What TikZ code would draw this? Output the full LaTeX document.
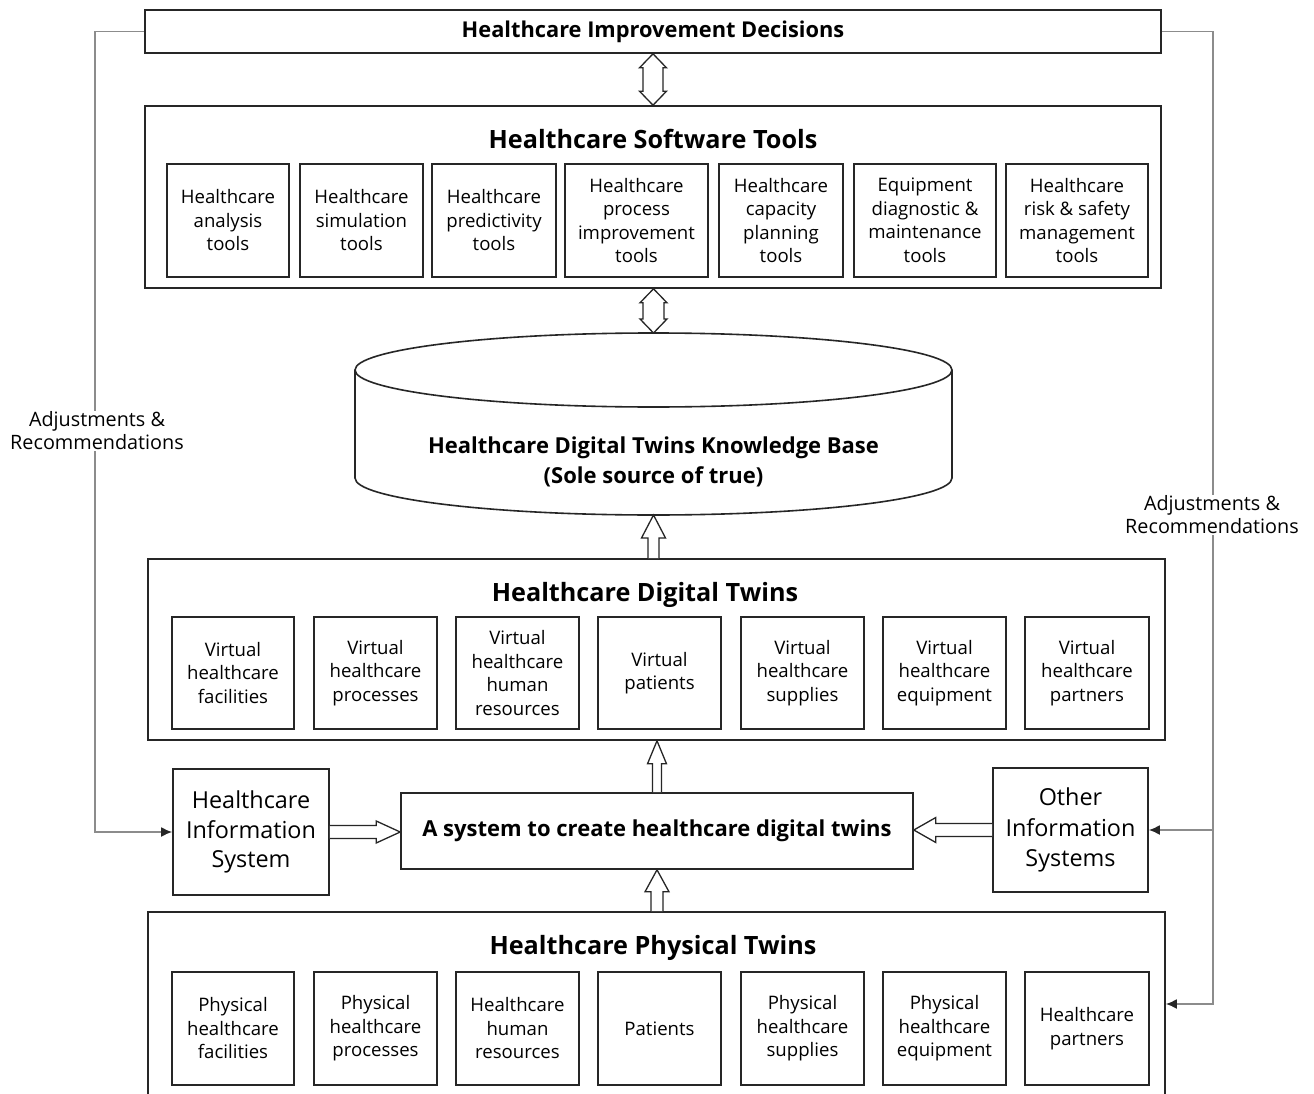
\documentclass[tikz,border=0pt]{standalone}
\usepackage{fontspec}
\setmainfont{Open Sans}
\usetikzlibrary{calc,arrows.meta}
\newcommand\blkup[5]{\draw[blk] let \p1=(#1), \p2=(#2) in
  (\x1-#3,\y1) -- (\x1-#3,\y2-#5) -- (\x1-#4,\y2-#5) -- (\x1,\y2) -- (\x1+#4,\y2-#5) -- (\x1+#3,\y2-#5) -- (\x1+#3,\y1);}
\newcommand\blkupdown[5]{\draw[blk] let \p1=(#1), \p2=(#2) in
  (\x1-#3,\y1+#5) -- (\x1-#4,\y1+#5) -- (\x1,\y1) -- (\x1+#4,\y1+#5) -- (\x1+#3,\y1+#5) -- (\x1+#3,\y2-#5) -- (\x1+#4,\y2-#5) -- (\x1,\y2) -- (\x1-#4,\y2-#5) -- (\x1-#3,\y2-#5) -- cycle;}
\newcommand\blkright[5]{\draw[blk] let \p1=(#1), \p2=(#2) in
  (\x1,\y1+#3) -- (\x2-#5,\y1+#3) -- (\x2-#5,\y1+#4) -- (\x2,\y1) -- (\x2-#5,\y1-#4) -- (\x2-#5,\y1-#3) -- (\x1,\y1-#3);}
\newcommand\blkleft[5]{\draw[blk] let \p1=(#1), \p2=(#2) in
  (\x1,\y1+#3) -- (\x2+#5,\y1+#3) -- (\x2+#5,\y1+#4) -- (\x2,\y1) -- (\x2+#5,\y1-#4) -- (\x2+#5,\y1-#3) -- (\x1,\y1-#3);}
\begin{document}
\begin{tikzpicture}[x=1pt,y=-1pt,
  frame/.style={draw=black!85, line width=1.6pt, inner sep=0pt},
  sub/.style={frame, align=center, minimum height=113pt, font=\fontsize{18.6}{23.5}\selectfont},
  ttl/.style={font=\bfseries\fontsize{25.2}{28}\selectfont},
  blk/.style={draw=black!85, line width=1.3pt, fill=white, line join=miter},
  fb/.style={draw=black!45, line width=1.8pt},
  fbarrow/.style={fb, -{Latex[length=11pt,width=10pt,color=black!85]}},
  lbl/.style={fill=white, align=center, inner sep=1pt, font=\fontsize{19.8}{23}\selectfont}]
\useasboundingbox (0,0) rectangle (1314,1094);
\fill[white] (0,0) rectangle (1314,1094);

% top decisions
\node[frame, minimum width=1016pt, minimum height=43pt, font=\bfseries\fontsize{21.8}{24}\selectfont] (top) at (653,31.5) {Healthcare Improvement Decisions};

% software tools
\node[frame, minimum width=1016pt, minimum height=182pt] (sw) at (653,197) {};
\node[ttl] (swt) at (653,139) {Healthcare Software Tools};
\node[sub, minimum width=122pt] (s1) at (228,220.5) {Healthcare\\analysis\\tools};
\node[sub, minimum width=123pt] (s2) at (361.5,220.5) {Healthcare\\simulation\\tools};
\node[sub, minimum width=124pt] (s3) at (494,220.5) {Healthcare\\predictivity\\tools};
\node[sub, minimum width=143pt] (s4) at (636.5,220.5) {Healthcare\\process\\improvement\\tools};
\node[sub, minimum width=124pt] (s5) at (781,220.5) {Healthcare\\capacity\\planning\\tools};
\node[sub, minimum width=142pt] (s6) at (925,220.5) {Equipment\\diagnostic \&\\maintenance\\tools};
\node[sub, minimum width=142pt] (s7) at (1077,220.5) {Healthcare\\risk \& safety\\management\\tools};

% knowledge base cylinder
\draw[frame] (355,370) -- (355,478) arc[start angle=180, end angle=360, x radius=298.5pt, y radius=37pt] -- (952,370);
\draw[frame] (653.5,370) ellipse [x radius=298.5pt, y radius=37pt];
\coordinate (kbtop) at (653.5,333);
\coordinate (kbbot) at (653.5,515);
\node[align=center, font=\bfseries\fontsize{22}{30}\selectfont] (kb) at (653.5,462) {Healthcare Digital Twins Knowledge Base\\(Sole source of true)};

% digital twins
\node[frame, minimum width=1017pt, minimum height=181pt] (dt) at (656.5,649.5) {};
\node[ttl] (dtt) at (645,595) {Healthcare Digital Twins};
\node[sub, minimum width=122pt, minimum height=112pt] (d1) at (233,673) {Virtual\\healthcare\\facilities};
\node[sub, minimum width=123pt, minimum height=112pt] (d2) at (375.5,673) {Virtual\\healthcare\\processes};
\node[sub, minimum width=123pt, minimum height=112pt] (d3) at (517.5,673) {Virtual\\healthcare\\human\\resources};
\node[sub, minimum width=123pt, minimum height=112pt] (d4) at (659.5,673) {Virtual\\patients};
\node[sub, minimum width=123pt, minimum height=112pt] (d5) at (802.5,673) {Virtual\\healthcare\\supplies};
\node[sub, minimum width=123pt, minimum height=112pt] (d6) at (944.5,673) {Virtual\\healthcare\\equipment};
\node[sub, minimum width=124pt, minimum height=112pt] (d7) at (1087,673) {Virtual\\healthcare\\partners};

% middle row
\node[frame, minimum width=156pt, minimum height=126pt, align=center, font=\fontsize{23.4}{29.5}\selectfont] (his) at (251,832) {Healthcare\\Information\\System};
\node[frame, minimum width=512pt, minimum height=76pt, font=\bfseries\fontsize{22}{24}\selectfont] (sys) at (657,831) {A system to create healthcare digital twins};
\node[frame, minimum width=155pt, minimum height=124pt, align=center, font=\fontsize{23.4}{30.5}\selectfont] (ois) at (1070.5,830) {Other\\Information\\Systems};

% physical twins
\node[frame, minimum width=1017pt, minimum height=184pt] (pt) at (656.5,1004) {};
\node[ttl] (ptt) at (653,948) {Healthcare Physical Twins};
\node[sub, minimum width=122pt] (p1) at (233,1028.5) {Physical\\healthcare\\facilities};
\node[sub, minimum width=123pt] (p2) at (375.5,1028.5) {Physical\\healthcare\\processes};
\node[sub, minimum width=123pt] (p3) at (517.5,1028.5) {Healthcare\\human\\resources};
\node[sub, minimum width=123pt] (p4) at (659.5,1028.5) {Patients};
\node[sub, minimum width=123pt] (p5) at (802.5,1028.5) {Physical\\healthcare\\supplies};
\node[sub, minimum width=123pt] (p6) at (944.5,1028.5) {Physical\\healthcare\\equipment};
\node[sub, minimum width=124pt] (p7) at (1087,1028.5) {Healthcare\\partners};

% block arrows
\blkupdown{sw.north}{top.south}{10pt}{13.5pt}{14pt}
\blkupdown{kbtop}{sw.south}{10.5pt}{13.5pt}{14pt}
\blkup{kbbot |- dt.north}{kbbot}{5.5pt}{12pt}{23pt}
\blkup{sys.north}{sys.north |- dt.south}{4.5pt}{9.5pt}{23pt}
\blkup{sys.south |- pt.north}{sys.south}{6pt}{12pt}{22pt}
\blkright{his.east}{sys.west |- his.east}{6.5pt}{11pt}{24pt}
\blkleft{ois.west}{sys.east}{6.5pt}{12.5pt}{22pt}

% feedback lines
\draw[fbarrow] (top.west) -- ++(-49,0) |- (his.west);
\draw[fbarrow] (top.east) -- ++(51,0) coordinate (rc) |- (pt.east);
\draw[fbarrow] (rc |- ois.east) -- (ois.east);
\node[lbl] (adjl) at (97,431) {Adjustments \&\\Recommendations};
\node[lbl] (adjr) at (1212,515) {Adjustments \&\\Recommendations};
\end{tikzpicture}
\end{document}
